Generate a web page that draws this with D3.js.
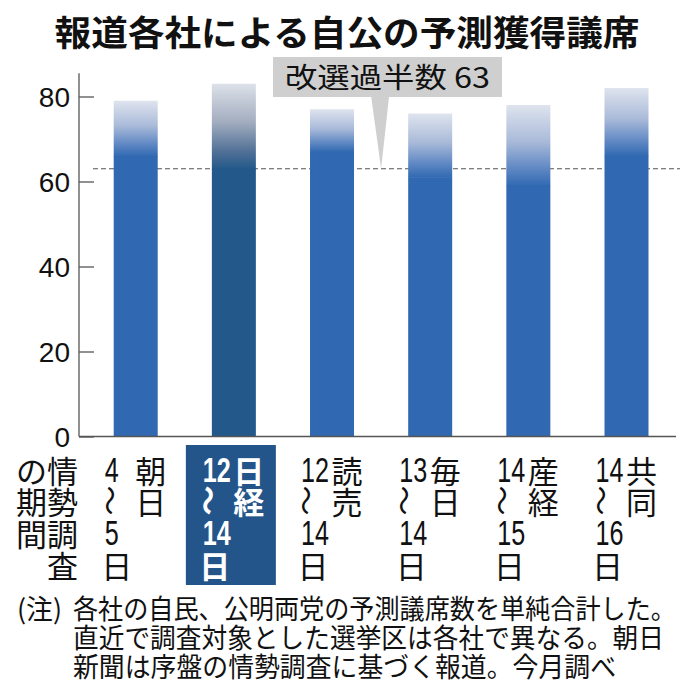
<!DOCTYPE html>
<html><head><meta charset="utf-8">
<script src="https://cdn.jsdelivr.net/npm/d3@7"></script>
<style>body{margin:0;background:#fff}svg{display:block}</style>
</head><body>
<svg id="c" width="696" height="696"></svg>
<script>
// ---- data ----
const categories = ["朝日","日経","読売","毎日","産経","共同"];
const lowValues  = [66, 63, 67, 61, 59, 66];   // solid part (lower end of forecast)
const highValues = [79, 83, 77, 76, 78, 82];   // upper end of forecast
const dateStart  = ["4","12","12","13","14","14"];
const dateEnd    = ["5","14","14","14","15","16"];
const highlighted = "日経";
const majority = 63;
const yTicks = [0, 20, 40, 60, 80];
const titleText = "報道各社による自公の予測獲得議席";
const calloutText = "改選過半数 63";
const rowHeader = ["の情","期勢","間調","査"];
const notes = ["各社の自民、公明両党の予測議席数を単純合計した。",
               "直近で調査対象とした選挙区は各社で異なる。朝日",
               "新聞は序盤の情勢調査に基づく報道。今月調べ"];

const JP = "'Noto Sans CJK JP','Noto Sans CJK SC',sans-serif";
const svg = d3.select("#c");

const y = d3.scaleLinear().domain([0, 80]).range([436.5, 96.5]);
const x = d3.scalePoint().domain(categories).range([135.7, 626.5]);
const barW = 44;

// gradients
const defs = svg.append("defs");
function grad(id, stops){
  const g = defs.append("linearGradient").attr("id", id).attr("x1",0).attr("y1",0).attr("x2",0).attr("y2",1);
  stops.forEach(s => g.append("stop").attr("offset", s[0]).attr("stop-color", s[1]));
}
grad("gN", [[0,"#dfe4ee"],[0.45,"#a9bad9"],[0.8,"#5b85c2"],[1,"#3069b1"]]);
grad("gH", [[0,"#dde1e9"],[0.45,"#a2adbf"],[0.8,"#4f6f96"],[1,"#22598a"]]);

// title
svg.append("text").attr("x", 347).attr("y", 30).attr("text-anchor","middle")
  .attr("dominant-baseline","central").attr("font-family", JP).attr("font-weight","bold")
  .attr("font-size", 35).attr("fill","#111").attr("textLength", 585).attr("lengthAdjust","spacingAndGlyphs")
  .text(titleText);

// majority dashed line
svg.append("line").attr("x1", 93).attr("x2", 680).attr("y1", y(majority)).attr("y2", y(majority))
  .attr("stroke","#555").attr("stroke-width",1.1).attr("stroke-dasharray","5,3");

// bars
const bars = svg.append("g");
categories.forEach((c, i) => {
  const hi = c === highlighted;
  bars.append("rect").attr("x", x(c) - barW/2).attr("width", barW)
    .attr("y", y(highValues[i])).attr("height", y(lowValues[i]) - y(highValues[i]) + 0.5)
    .attr("fill", hi ? "url(#gH)" : "url(#gN)");
  bars.append("rect").attr("x", x(c) - barW/2).attr("width", barW)
    .attr("y", y(lowValues[i])).attr("height", y(0) - y(lowValues[i]))
    .attr("fill", hi ? "#22598a" : "#3069b1");
});

// axis
const axis = d3.axisLeft(y).tickValues(yTicks).tickSizeInner(-15).tickSizeOuter(0).tickPadding(9);
const ag = svg.append("g").attr("transform","translate(79,0)").call(axis);
ag.select(".domain").remove();
ag.selectAll(".tick line").attr("stroke","#555").attr("stroke-width",1.3);
ag.selectAll(".tick text").attr("font-family","'Liberation Sans',Arial,sans-serif")
  .attr("font-size",28).attr("fill","#111").attr("dy","0.35em");
svg.append("line").attr("x1",79).attr("x2",79).attr("y1", y(85.5)).attr("y2", y(0))
  .attr("stroke","#555").attr("stroke-width",1.3);
svg.append("line").attr("x1",79).attr("x2",676).attr("y1", y(0)).attr("y2", y(0))
  .attr("stroke","#555").attr("stroke-width",1.3);

// callout
const tipX = (x(categories[2]) + x(categories[3])) / 2;
svg.append("path")
  .attr("d", `M${tipX-10},96 L${tipX+8},96 L${tipX},${y(majority)} Z`)
  .attr("fill","#cfcfcf");
svg.append("rect").attr("x", 273).attr("y", 57).attr("width", 229).attr("height", 40).attr("fill","#cfcfcf");
svg.append("text").attr("x", 285).attr("y", 76).attr("dominant-baseline","central")
  .attr("font-family", JP).attr("font-size", 28).attr("fill","#111")
  .attr("textLength", 205).attr("lengthAdjust","spacingAndGlyphs").text(calloutText);

// category labels
const rowY = [469, 500.5, 532, 564];
const NUM = "'Liberation Sans',Arial,sans-serif";
rowHeader.forEach((t, r) => {
  svg.append("text").attr("x", 78).attr("y", rowY[r]).attr("text-anchor","end")
    .attr("dominant-baseline","central").attr("font-family", JP).attr("font-size", 31)
    .attr("fill","#111").text(t);
});
categories.forEach((c, i) => {
  const hi = c === highlighted;
  const cx = x(c);
  const col = hi ? "#fff" : "#111";
  const fw = hi ? "bold" : "normal";
  if (hi) {
    svg.append("rect").attr("x", cx - 48).attr("y", 445).attr("width", 90).attr("height", 140)
      .attr("fill", "#24558a");
  }
  const g = svg.append("g").attr("fill", col).attr("font-weight", fw);
  const num = (t, yy) => g.append("text").attr("x", cx - 31).attr("y", yy)
    .attr("dominant-baseline","central").attr("font-family", NUM).attr("font-size", 35)
    .attr("textLength", t.length * 14).attr("lengthAdjust","spacingAndGlyphs").text(t);
  num(dateStart[i], rowY[0]);
  g.append("text").attr("transform", `translate(${cx - 24},${rowY[1]}) rotate(90)`)
    .attr("text-anchor","middle").attr("dominant-baseline","central")
    .attr("font-family", JP).attr("font-size", 30).text("～");
  num(dateEnd[i], rowY[2]);
  g.append("text").attr("x", cx - 19).attr("y", rowY[3]).attr("text-anchor","middle")
    .attr("dominant-baseline","central").attr("font-family", JP).attr("font-size", 31).text("日");
  [...c].forEach((ch, k) => {
    g.append("text").attr("x", cx + 15).attr("y", rowY[k]).attr("text-anchor","middle")
      .attr("dominant-baseline","central").attr("font-family", JP).attr("font-size", 31).text(ch);
  });
});

// notes
const noteY = [607, 636, 665];
const noteLen = [603, 591, 543];
svg.append("text").attr("x", 17).attr("y", noteY[0]).attr("dominant-baseline","central")
  .attr("font-family", JP).attr("font-size", 27).attr("fill","#111")
  .attr("textLength", 45).attr("lengthAdjust","spacingAndGlyphs").text("(注)");
notes.forEach((t, k) => {
  svg.append("text").attr("x", 73).attr("y", noteY[k]).attr("dominant-baseline","central")
    .attr("font-family", JP).attr("font-size", 27).attr("fill","#111")
    .attr("textLength", noteLen[k]).attr("lengthAdjust","spacingAndGlyphs").text(t);
});
</script>
</body></html>
